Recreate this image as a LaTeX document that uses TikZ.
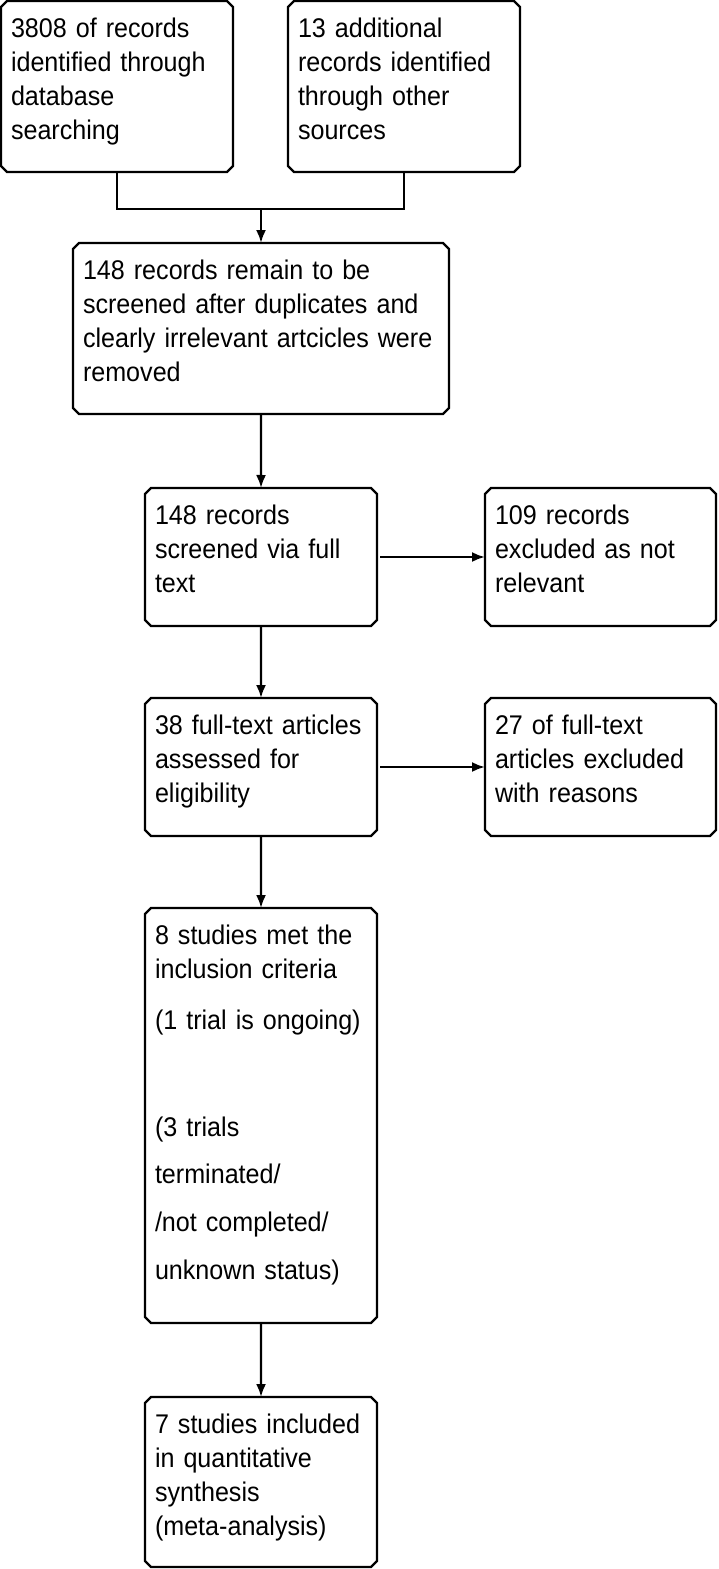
\documentclass[tikz,border=0pt]{standalone}
\usepackage{fontspec}
\setmainfont{Liberation Sans}[FakeStretch=0.93]
\usetikzlibrary{shapes.misc, arrows.meta}

\tikzset{
	box/.style={draw, line width=2.3pt, chamfered rectangle, chamfered rectangle xsep=3pt, chamfered rectangle ysep=3pt,
		anchor=north west, align=left, inner xsep=7pt, inner ysep=7pt, outer sep=0pt,
		text height=26pt, font=\fontsize{27}{34}\selectfont},
	arr/.style={-{Latex[length=13pt,width=10pt]}, line width=2.3pt}
}

\begin{document}
\begin{tikzpicture}[x=1pt, y=-1pt]
			\useasboundingbox (0,0) rectangle (718,1569);
			\node[box, text width=212pt, text depth=125pt] (db) at (4,4) {3808 of records\\identified through\\database\\searching};
			\node[box, text width=212pt, text depth=125pt] (other) at (291,4) {13 additional\\records identified\\through other\\sources};
			\node[box, text width=356pt, text depth=125pt] (remain) at (76,246) {148 records remain to be\\screened after duplicates and\\clearly irrelevant artcicles were\\removed};
			\node[box, text width=212pt, text depth=92pt] (screen) at (148,491) {148 records\\screened via full\\text};
			\node[box, text width=211pt, text depth=92pt] (notrel) at (488,491) {109 records\\excluded as not\\relevant};
			\node[box, text width=212pt, text depth=92pt] (elig) at (148,701) {38 full-text articles\\assessed for\\eligibility};
			\node[box, text width=211pt, text depth=92pt] (reasons) at (488,701) {27 of full-text\\articles excluded\\with reasons};
			\node[box, text width=212pt, text depth=369pt] (incl) at (148,911) {8 studies met the\\inclusion criteria\\[17pt](1 trial is ongoing)\\[73pt](3 trials\\[13pt]terminated/\\[14pt]/not completed/\\[14pt]unknown status)};
			\node[box, text width=212pt, text depth=124pt] (meta) at (148,1400) {7 studies included\\in quantitative\\synthesis\\(meta-analysis)};
			
			\coordinate (join) at (remain.north |- 0,209);
			\draw[line width=2.3pt] (db.south) |- (join) -| (other.south);
			
			\path[arr]
			(join) edge (remain.north)
			(remain) edge (screen)
			(screen) edge (elig)
			(elig) edge (incl)
			(incl) edge (meta)
			(screen.east) edge[shorten <=3pt] (notrel.west)
			(elig.east) edge[shorten <=3pt] (reasons.west);
		\end{tikzpicture}
\end{document}
